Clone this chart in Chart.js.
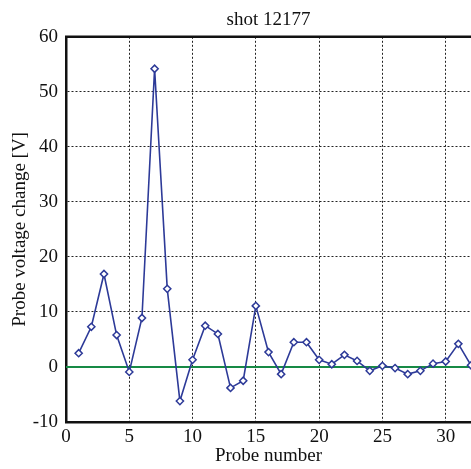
<!DOCTYPE html>
<html>
<head>
<meta charset="utf-8">
<script src="https://cdn.jsdelivr.net/npm/chart.js@4/dist/chart.umd.min.js"></script>
<style>
html,body{margin:0;padding:0;background:#fff;}
#wrap{width:471px;height:469px;}
</style>
</head>
<body>
<div id="wrap"><canvas id="c" width="471" height="469"></canvas></div>
<script>
const probeNumbers = [1,2,3,4,5,6,7,8,9,10,11,12,13,14,15,16,17,18,19,20,21,22,23,24,25,26,27,28,29,30,31,32];
const voltageChange = [2.5,7.3,16.9,5.8,-0.9,8.9,54.2,14.2,-6.2,1.3,7.5,6.0,-3.8,-2.5,11.1,2.7,-1.3,4.5,4.5,1.3,0.5,2.2,1.1,-0.7,0.2,-0.2,-1.3,-0.7,0.6,1.0,4.2,0.3];
const zeroLineX = [0, 32];
const zeroLineY = [0, 0];
const titleText = 'shot 12177';
const xTitle = 'Probe number';
const yTitle = 'Probe voltage change [V]';

const FONT = "'Liberation Serif', 'Times New Roman', serif";

const topBorder = {
  id: 'topBorder',
  afterDraw(chart) {
    const a = chart.chartArea, ctx = chart.ctx;
    ctx.save();
    ctx.strokeStyle = '#111';
    ctx.lineWidth = 2.5;
    ctx.beginPath();
    ctx.moveTo(a.left - 1, a.top);
    ctx.lineTo(a.right, a.top);
    ctx.stroke();
    ctx.restore();
  }
};

new Chart(document.getElementById('c'), {
  type: 'line',
  data: {
    datasets: [
      {
        label: 'zero',
        data: zeroLineX.map((x, i) => ({x, y: zeroLineY[i]})),
        borderColor: '#178a45',
        borderWidth: 2,
        pointRadius: 0,
        order: 2
      },
      {
        label: 'voltage',
        data: probeNumbers.map((x, i) => ({x, y: voltageChange[i]})),
        borderColor: '#2d3a98',
        backgroundColor: '#ffffff',
        borderWidth: 1.6,
        pointStyle: 'rectRot',
        pointRadius: 3.6,
        pointBorderWidth: 1.5,
        pointBorderColor: '#2d3a98',
        pointBackgroundColor: '#ffffff',
        tension: 0,
        order: 1
      }
    ]
  },
  options: {
    responsive: false,
    animation: false,
    devicePixelRatio: 1,
    layout: { autoPadding: false, padding: { left: 0, right: -1, top: 0, bottom: 0 } },
    plugins: {
      legend: { display: false },
      tooltip: { enabled: false },
      title: {
        display: true,
        text: titleText,
        fullSize: false,
        color: '#111',
        font: { family: FONT, size: 19, weight: 'normal' },
        padding: { top: 9, bottom: 5 }
      }
    },
    scales: {
      x: {
        type: 'linear',
        min: 0,
        max: 32,
        afterFit: (s) => { s.height = 47; s.paddingRight = 0; s.paddingLeft = 0; },
        ticks: {
          stepSize: 5,
          includeBounds: false,
          color: '#111',
          padding: 4,
          font: { family: FONT, size: 19 },
          maxRotation: 0
        },
        grid: { color: '#222', lineWidth: 1, drawTicks: false },
        border: { display: true, color: '#111', width: 2.5, dash: [2, 2] },
        title: {
          display: true,
          text: xTitle,
          color: '#111',
          font: { family: FONT, size: 19 },
          padding: { top: 0, bottom: 2 }
        }
      },
      y: {
        type: 'linear',
        min: -10,
        max: 60,
        afterFit: (s) => { s.width = 66; },
        ticks: {
          stepSize: 10,
          color: '#111',
          padding: 8,
          font: { family: FONT, size: 19 }
        },
        grid: { color: '#222', lineWidth: 1, drawTicks: false },
        border: { display: true, color: '#111', width: 2.5, dash: [2, 2] },
        title: {
          display: true,
          text: yTitle,
          color: '#111',
          font: { family: FONT, size: 19 },
          padding: { top: 9, bottom: 0 }
        }
      }
    }
  },
  plugins: [topBorder]
});
</script>
</body>
</html>
